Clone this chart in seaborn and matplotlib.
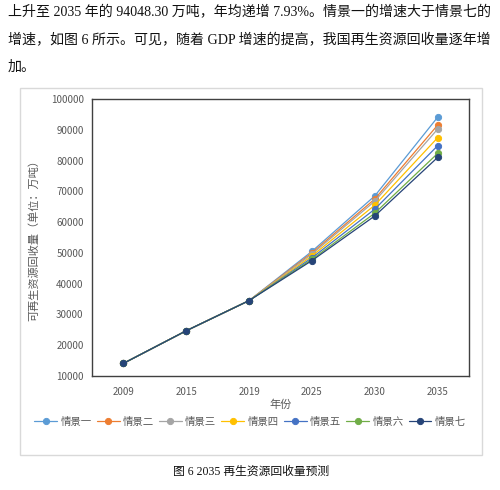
import matplotlib
matplotlib.use("Agg")
import matplotlib.pyplot as plt
import seaborn as sns
import pandas as pd
from matplotlib.patches import Rectangle

years = ["2009", "2015", "2019", "2025", "2030", "2035"]
scenarios = ["情景一", "情景二", "情景三", "情景四", "情景五", "情景六", "情景七"]
colors = ["#5B9BD5", "#ED7D31", "#A5A5A5", "#FFC000", "#4472C4", "#70AD47", "#264478"]
s1 = [14100, 24700, 34500, 50500, 68500, 94048]
s2 = [14100, 24700, 34500, 50000, 67500, 91500]
s3 = [14100, 24700, 34500, 49600, 66800, 90200]
s4 = [14100, 24700, 34500, 49000, 65500, 87400]
s5 = [14100, 24700, 34500, 48400, 64200, 84800]
s6 = [14100, 24700, 34500, 47900, 62900, 82300]
s7 = [14100, 24700, 34500, 47500, 62000, 81000]
series = [s1, s2, s3, s4, s5, s6, s7]
yticks = [10000, 20000, 30000, 40000, 50000, 60000, 70000, 80000, 90000, 100000]

rows = []
for name, vals in zip(scenarios, series):
    for yr, v in zip(years, vals):
        rows.append({"年份": yr, "值": v, "情景": name})
df = pd.DataFrame(rows)

sns.set_style("white")
plt.rcParams["font.family"] = ["Noto Sans CJK SC", "DejaVu Sans"]

fig = plt.figure(figsize=(5.0, 4.9), dpi=100)
W, H = 500, 490

# chart outer border
fig.patches.append(Rectangle((20 / W, 1 - 455 / H), 462 / W, 367 / H,
                             transform=fig.transFigure, fill=False,
                             edgecolor="#d9d9d9", linewidth=1.0))

ax = fig.add_axes([92 / W, 1 - 376 / H, 377 / W, 277 / H])
sns.pointplot(data=df, x="年份", y="值", hue="情景", order=years,
              hue_order=scenarios, palette=colors, markers="o",
              errorbar=None, linewidth=0.9, markersize=4.5, ax=ax)

ax.set_ylim(10000, 100000)
ax.set_xlim(-0.5, 5.5)
ax.set_yticks(yticks)
ax.set_yticklabels([str(t) for t in yticks])
ax.tick_params(axis="both", length=0, labelsize=7, colors="#595959", pad=6)
ax.tick_params(axis="x", pad=8)
for sp in ax.spines.values():
    sp.set_color("#404040")
    sp.set_linewidth(1.0)
ax.set_xlabel("年份", fontsize=8, color="#595959", labelpad=2)
ax.set_ylabel("可再生资源回收量（单位：万吨）", fontsize=8, color="#595959", labelpad=8)

leg = ax.legend(loc="center", bbox_to_anchor=(250 / W, 1 - 422 / H),
                bbox_transform=fig.transFigure, ncol=7, frameon=False,
                fontsize=7.5, handlelength=2.2, handletextpad=0.3,
                columnspacing=0.5, labelcolor="#595959")

serif = ["Liberation Serif", "Noto Sans CJK SC"]
lines = [
    "上升至 2035 年的 94048.30 万吨，年均递增 7.93%。情景一的增速大于情景七的",
    "增速，如图 6 所示。可见，随着 GDP 增速的提高，我国再生资源回收量逐年增",
    "加。",
]
ys = [12, 40, 67]
fig.canvas.draw()
renderer = fig.canvas.get_renderer()
target = 484.0
texts = []
size = 10.6
for i, (t, y) in enumerate(zip(lines, ys)):
    txt = fig.text(8 / W, 1 - y / H, t, ha="left", va="center", fontsize=10.6,
                   family=serif, color="#111111")
    if i < 2:
        w = txt.get_window_extent(renderer).width
        size = 10.6 * target / w
        txt.set_fontsize(size)
    else:
        txt.set_fontsize(size)

fig.text(251 / W, 1 - 472 / H, "图 6 2035 再生资源回收量预测", ha="center",
         va="center", fontsize=8.5, family=serif, color="#111111")

fig.savefig("out.png", dpi=100)
